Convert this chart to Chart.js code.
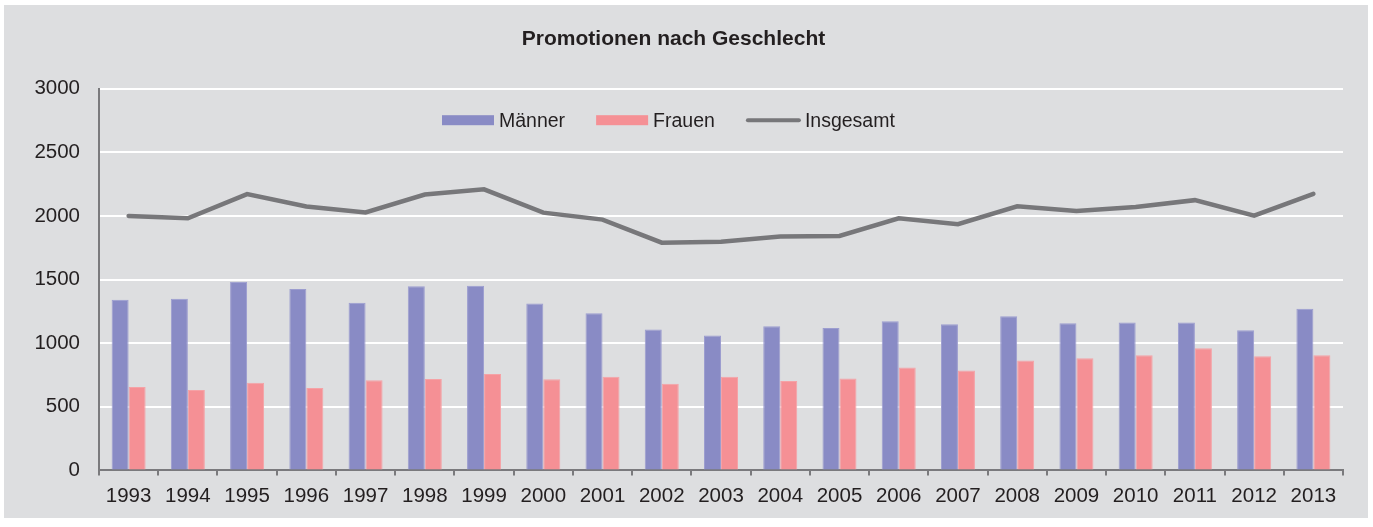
<!DOCTYPE html>
<html lang="de">
<head>
<meta charset="UTF-8">
<title>Promotionen nach Geschlecht</title>
<script src="https://cdn.jsdelivr.net/npm/chart.js"></script>
<style>
  html, body { margin: 0; padding: 0; background: #fff; }
  .box { position: absolute; left: 4px; top: 5px; width: 1364px; height: 513px; background: #dddee0; }
</style>
</head>
<body>
<div class="box"><canvas id="promoChart" width="1364" height="513"></canvas></div>
<script>
const jahre = ['1993', '1994', '1995', '1996', '1997', '1998', '1999', '2000', '2001', '2002', '2003',
               '2004', '2005', '2006', '2007', '2008', '2009', '2010', '2011', '2012', '2013'];
const maenner = [1342, 1350, 1483, 1425, 1318, 1448, 1451, 1311, 1235, 1107, 1060,
                 1133, 1120, 1172, 1148, 1211, 1156, 1162, 1162, 1102, 1271];
const frauen = [655, 632, 689, 647, 708, 718, 757, 716, 736, 681, 736,
                702, 723, 809, 786, 864, 882, 906, 961, 898, 906];
const insgesamt = [2000, 1982, 2172, 2074, 2027, 2168, 2209, 2026, 1971, 1790, 1798,
                   1838, 1843, 1981, 1935, 2076, 2039, 2070, 2124, 2002, 2174];
const yTicks = [0, 500, 1000, 1500, 2000, 2500, 3000];

const FONT = "'Liberation Sans', Arial, sans-serif";
const TEXT = '#231f20';
const AXIS = '#7a7a7d';

// Legende sitzt im Plotbereich, deshalb selbst zeichnen
const innerLegend = {
    id: 'innerLegend',
    afterDraw(chart) {
        const ctx = chart.ctx;
        const area = chart.chartArea;
        let x = area.left + 343;
        const y = area.top + 31.5;
        ctx.save();
        ctx.font = '19.5px ' + FONT;
        ctx.textBaseline = 'middle';
        ctx.fillStyle = TEXT;
        chart.data.datasets.forEach(ds => {
            if (ds.type === 'line') {
                ctx.strokeStyle = ds.borderColor;
                ctx.lineWidth = 4;
                ctx.lineCap = 'round';
                ctx.beginPath();
                ctx.moveTo(x + 2, y);
                ctx.lineTo(x + 53, y);
                ctx.stroke();
                x += 59;
            } else {
                ctx.fillStyle = ds.backgroundColor;
                ctx.fillRect(x, y - 5, 52, 10);
                x += 57;
            }
            ctx.fillStyle = TEXT;
            ctx.fillText(ds.label, x, y + 1);
            x += ctx.measureText(ds.label).width + 31;
        });
        ctx.restore();
    }
};

new Chart(document.getElementById('promoChart'), {
    data: {
        labels: jahre,
        datasets: [
            {
                type: 'bar',
                label: 'Männer',
                data: maenner,
                backgroundColor: '#898bc5',
                borderColor: '#9c9dcf',
                borderWidth: 1,
                categoryPercentage: 0.574,
                barPercentage: 1
            },
            {
                type: 'bar',
                label: 'Frauen',
                data: frauen,
                backgroundColor: '#f59095',
                borderColor: '#f5a2a6',
                borderWidth: 1,
                categoryPercentage: 0.574,
                barPercentage: 1
            },
            {
                type: 'line',
                label: 'Insgesamt',
                data: insgesamt,
                borderColor: '#77777a',
                borderWidth: 4.5,
                borderCapStyle: 'round',
                pointRadius: 0,
                tension: 0,
                fill: false,
                order: -1
            }
        ]
    },
    options: {
        responsive: false,
        devicePixelRatio: 1,
        animation: false,
        layout: { padding: { left: 0, right: 25, top: 22, bottom: 0 } },
        plugins: {
            legend: { display: false },
            tooltip: { enabled: false },
            title: {
                display: true,
                text: 'Promotionen nach Geschlecht',
                color: TEXT,
                font: { family: FONT, size: 21, weight: 'bold' },
                padding: { top: 0, bottom: 36.5 }
            }
        },
        scales: {
            x: {
                offset: true,
                grid: { offset: true, drawOnChartArea: false, drawTicks: true, tickLength: 5, color: AXIS, lineWidth: 2 },
                border: { color: AXIS, width: 2 },
                ticks: { color: TEXT, font: { family: FONT, size: 20.5 }, padding: 9, autoSkip: false, maxRotation: 0 }
            },
            y: {
                min: 0,
                max: 3000,
                afterBuildTicks: s => { s.ticks = yTicks.map(v => ({ value: v })); },
                afterFit: s => { s.width = 95; },
                grid: {
                    drawTicks: false,
                    lineWidth: 2,
                    color: c => (c.tick && c.tick.value === 0) ? 'rgba(0,0,0,0)' : '#ffffff'
                },
                border: { color: AXIS, width: 2 },
                ticks: {
                    color: TEXT,
                    font: { family: FONT, size: 20.5 },
                    padding: 19,
                    callback: v => String(v)
                }
            }
        }
    },
    plugins: [innerLegend]
});
</script>
</body>
</html>
